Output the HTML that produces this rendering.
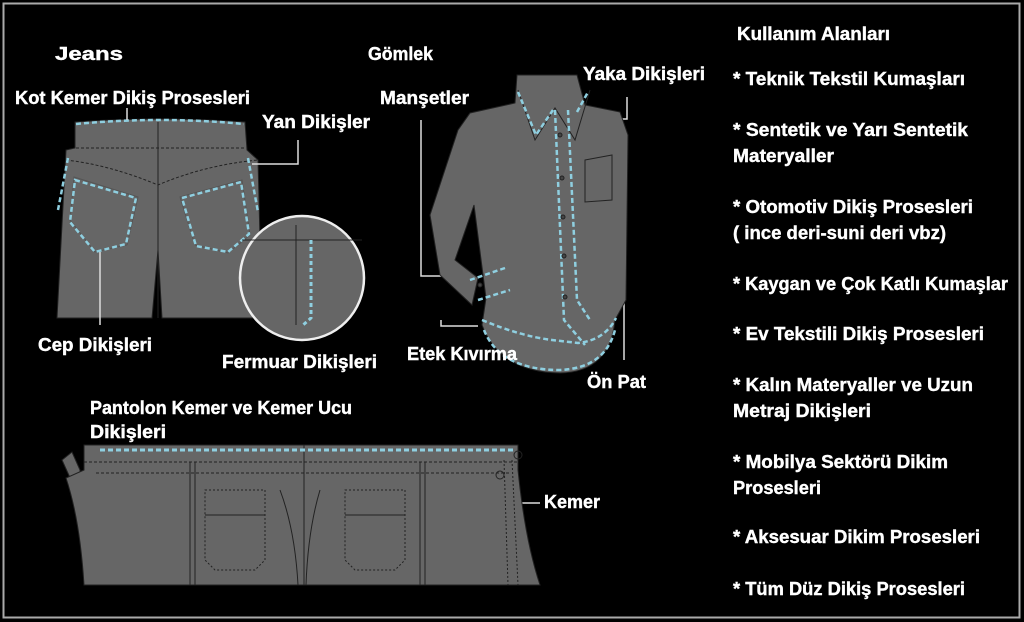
<!DOCTYPE html>
<html><head><meta charset="utf-8"><style>
html,body{margin:0;padding:0;background:#000;}
svg{display:block}
text{font-family:"Liberation Sans",sans-serif;font-weight:bold;fill:#fff;font-size:18px;stroke:#fff;stroke-width:0.4;}
</style></head><body>
<svg width="1024" height="622" viewBox="0 0 1024 622" xmlns="http://www.w3.org/2000/svg">
<rect x="0" y="0" width="1024" height="622" fill="#000"/>
<rect x="3.5" y="3.5" width="1016" height="614" fill="none" stroke="#aaa" stroke-width="2"/>

<!-- JEANS -->
<g stroke="#222" stroke-width="1">
<path d="M75 122 Q160 116 245 122 L247 150 L258 160 L262 318 L162 318 L158 250 L152 318 L57 318 L66 150 L75 148 Z" fill="#666"/>
<path d="M76 148 L246 148 M66 160 Q110 165 158 185 Q205 165 258 160" fill="none" stroke-dasharray="3,2"/>
<path d="M158 122 L158 318" fill="none"/>
<path d="M74 177 L138 197 L127 245 L95 252 L70 220 Z" fill="none" stroke="#555"/>
<path d="M180 197 L242 180 L250 235 L228 253 L195 245 Z" fill="none" stroke="#555"/>
</g>
<g fill="none" stroke="#8fcfe0" stroke-width="2.5" stroke-dasharray="5,3">
<path d="M76 124 Q160 116 244 124"/>
<path d="M68 158 L58 210"/>
<path d="M248 158 L258 212"/>
<path d="M75 180 L136 198 L126 244 L95 252 L70 222 Z"/>
<path d="M182 198 L241 182 L249 234 L228 252 L196 246 Z"/>
</g>
<circle cx="302" cy="278" r="62" fill="#666" stroke="#eee" stroke-width="2.5"/>
<path d="M242 240 L362 240 M296 225 L296 325" stroke="#222" fill="none"/>
<path d="M311 240 L311 318 L303 325" stroke="#8fcfe0" stroke-width="3" stroke-dasharray="4,3" fill="none"/>
<g stroke="#ddd" stroke-width="1.5" fill="none">
<path d="M127 108 L127 120"/>
<path d="M298 140 L298 164 L252 164"/>
<path d="M100 252 L100 325"/>
<path d="M441 320 L441 326 L478 326"/>
<path d="M421 120 L421 276 L470 276"/>
<path d="M627 97 L627 119 L577 119"/>
<path d="M576 298 L624 298 L624 360"/>
<path d="M497 452 L497 503 L540 503"/>
</g>

<!-- SHIRT -->
<g stroke="#222" stroke-width="1">
<path d="M517 75 L577 75 L585 105 L620 112 L628 135 L626 300 L615 320 Q610 372 560 373 Q500 372 482 325 L486 298 L474 205 L455 260 L478 278 L472 305 L440 275 L430 215 L458 130 L470 113 L515 103 Z" fill="#666"/>
<path d="M518 90 L535 140 L555 108 L575 140 L590 90" fill="none"/>
<path d="M585 160 L612 155 L612 200 L585 202 Z" fill="none"/>
</g>
<g fill="none" stroke="#8fcfe0" stroke-width="2.5" stroke-dasharray="5,3">
<path d="M518 92 L536 135 L553 110 M577 112 L588 92"/>
<path d="M555 110 L564 320 L585 345 M568 110 L577 300 L590 320"/>
<path d="M470 280 L505 268 M478 300 L510 290"/>
<path d="M482 320 Q520 336 552 340 L578 343 Q605 340 616 318 M484 330 Q500 370 560 370 Q605 368 615 330"/>
</g>
<g fill="#444" stroke="#222"><circle cx="560" cy="135" r="2"/><circle cx="562" cy="178" r="2"/><circle cx="563" cy="217" r="2"/><circle cx="564" cy="256" r="2"/><circle cx="565" cy="297" r="2"/><circle cx="480" cy="285" r="2"/></g>

<!-- BELT -->
<g stroke="#222" stroke-width="1">
<path d="M62 460 L72 452 L80 470 L80 500 Z" fill="#666"/>
<path d="M84 445 L518 445 L518 470 Q525 540 540 585 L84 585 Q80 520 66 478 L84 470 Z" fill="#666"/>
<path d="M84 462 L518 462 M96 473 L510 473" fill="none" stroke-dasharray="3,2"/>
<path d="M304 445 L304 585 M195 462 L195 585 M190 462 L190 585 M420 462 L420 585 M425 462 L425 585 M280 490 Q295 530 298 585 M320 490 Q308 530 306 585" fill="none"/>
<path d="M205 490 L265 490 L265 560 L255 570 L215 570 L205 560 Z M345 490 L405 490 L405 560 L395 570 L355 570 L345 560 Z" fill="none" stroke-dasharray="2,2"/>
<path d="M205 515 L265 515 M345 515 L405 515" fill="none"/>
<path d="M504 460 L508 585 M512 460 L518 585" fill="none" stroke-dasharray="2,2"/>
<circle cx="500" cy="475" r="4" fill="none"/><circle cx="518" cy="455" r="4" fill="none"/>
</g>
<path d="M100 450 L515 450" stroke="#8fcfe0" stroke-width="3" stroke-dasharray="5,3" fill="none"/>

<!-- LABELS -->
<g lengthAdjust="spacingAndGlyphs">
<text x="55" y="60" font-size="22" textLength="68" lengthAdjust="spacingAndGlyphs">Jeans</text>
<text x="15" y="104" textLength="235" lengthAdjust="spacingAndGlyphs">Kot Kemer Dikiş Prosesleri</text>
<text x="262" y="128" textLength="108" lengthAdjust="spacingAndGlyphs">Yan Dikişler</text>
<text x="38" y="351" textLength="114" lengthAdjust="spacingAndGlyphs">Cep Dikişleri</text>
<text x="222" y="368" textLength="155" lengthAdjust="spacingAndGlyphs">Fermuar Dikişleri</text>
<text x="368" y="60" font-size="16" textLength="65" lengthAdjust="spacingAndGlyphs">Gömlek</text>
<text x="380" y="104" textLength="89" lengthAdjust="spacingAndGlyphs">Manşetler</text>
<text x="583" y="80" textLength="122" lengthAdjust="spacingAndGlyphs">Yaka Dikişleri</text>
<text x="407" y="360" textLength="110" lengthAdjust="spacingAndGlyphs">Etek Kıvırma</text>
<text x="587" y="388" textLength="59" lengthAdjust="spacingAndGlyphs">Ön Pat</text>
<text x="90" y="414" textLength="262" lengthAdjust="spacingAndGlyphs">Pantolon Kemer ve Kemer Ucu</text>
<text x="90" y="438" textLength="76" lengthAdjust="spacingAndGlyphs">Dikişleri</text>
<text x="544" y="508" textLength="56" lengthAdjust="spacingAndGlyphs">Kemer</text>

<text x="737" y="40" font-size="16" textLength="153" lengthAdjust="spacingAndGlyphs">Kullanım Alanları</text>
<text x="733" y="85" textLength="232" lengthAdjust="spacingAndGlyphs">* Teknik Tekstil Kumaşları</text>
<text x="733" y="136" textLength="235" lengthAdjust="spacingAndGlyphs">* Sentetik ve Yarı Sentetik</text>
<text x="733" y="162" textLength="101" lengthAdjust="spacingAndGlyphs">Materyaller</text>
<text x="733" y="213" textLength="240" lengthAdjust="spacingAndGlyphs">* Otomotiv Dikiş Prosesleri</text>
<text x="733" y="239" textLength="213" lengthAdjust="spacingAndGlyphs">( ince deri-suni deri vbz)</text>
<text x="733" y="290" textLength="275" lengthAdjust="spacingAndGlyphs">* Kaygan ve Çok Katlı Kumaşlar</text>
<text x="733" y="340" textLength="251" lengthAdjust="spacingAndGlyphs">* Ev Tekstili Dikiş Prosesleri</text>
<text x="733" y="391" textLength="240" lengthAdjust="spacingAndGlyphs">* Kalın Materyaller ve Uzun</text>
<text x="733" y="417" textLength="138" lengthAdjust="spacingAndGlyphs">Metraj Dikişleri</text>
<text x="733" y="468" textLength="215" lengthAdjust="spacingAndGlyphs">* Mobilya Sektörü Dikim</text>
<text x="733" y="494" textLength="88" lengthAdjust="spacingAndGlyphs">Prosesleri</text>
<text x="733" y="543" textLength="247" lengthAdjust="spacingAndGlyphs">* Aksesuar Dikim Prosesleri</text>
<text x="733" y="595" textLength="232" lengthAdjust="spacingAndGlyphs">* Tüm Düz Dikiş Prosesleri</text>
</g>
</svg>
</body></html>
